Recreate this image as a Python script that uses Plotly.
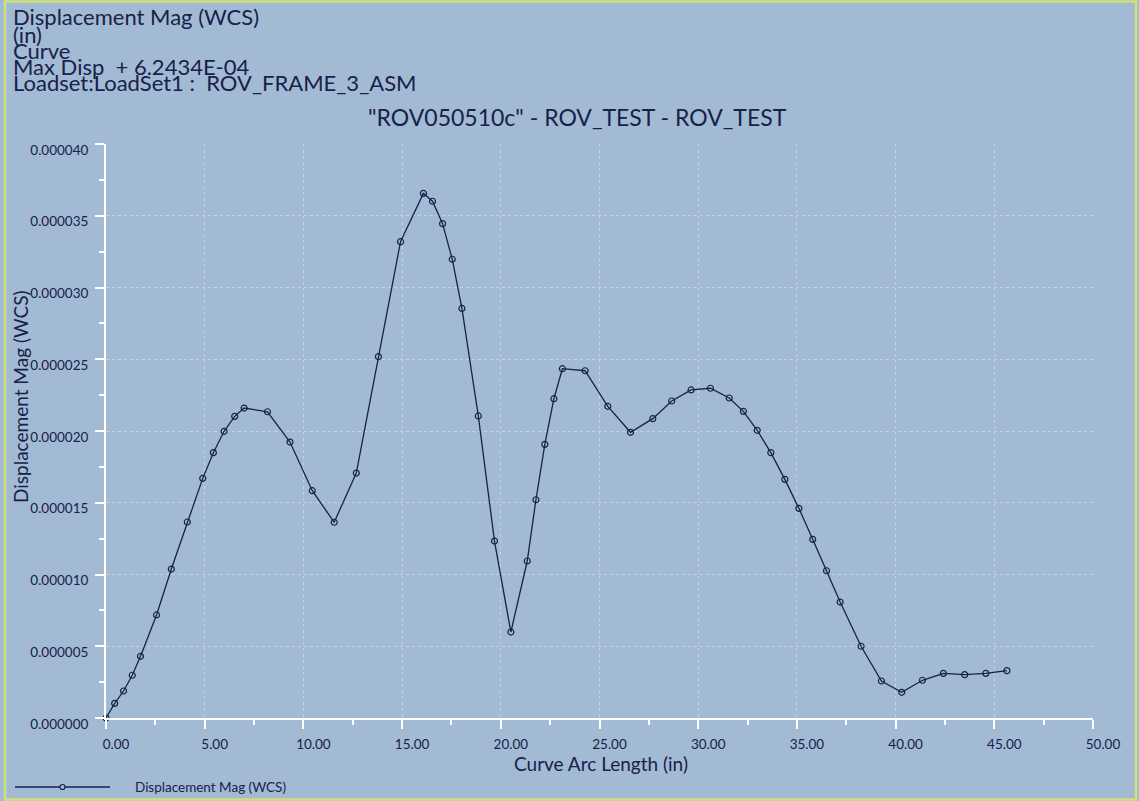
import plotly.graph_objects as go

# Curve arc length (in)
arc_length = [0.00, 0.44, 0.89, 1.33, 1.75, 2.56, 3.31, 4.12, 4.90, 5.44,
              5.98, 6.52, 7.00, 8.18, 9.32, 10.45, 11.56, 12.68, 13.80, 14.92,
              16.08, 16.54, 17.05, 17.54, 18.03, 18.86, 19.68, 20.51, 21.34, 21.78,
              22.23, 22.69, 23.12, 24.27, 25.42, 26.57, 27.70, 28.66, 29.64, 30.62,
              31.57, 32.29, 32.99, 33.68, 34.39, 35.10, 35.80, 36.50, 37.19, 38.25,
              39.28, 40.31, 41.36, 42.42, 43.50, 44.57, 45.64]
# Displacement magnitude (in), units of 1e-6
disp_e6 = [0.00, 1.02, 1.88, 2.98, 4.30, 7.18, 10.38, 13.66, 16.70, 18.49,
           19.98, 21.02, 21.60, 21.34, 19.23, 15.84, 13.64, 17.07, 25.18, 33.19,
           36.56, 36.01, 34.45, 31.97, 28.54, 21.05, 12.33, 5.99, 10.94, 15.21,
           19.07, 22.25, 24.34, 24.20, 21.72, 19.91, 20.86, 22.09, 22.86, 22.98,
           22.30, 21.37, 20.05, 18.49, 16.63, 14.61, 12.45, 10.26, 8.08, 5.00,
           2.58, 1.79, 2.63, 3.11, 3.02, 3.11, 3.30]
disp = [v * 1e-6 for v in disp_e6]

header_lines = ["Displacement Mag (WCS)", "(in)", "Curve",
                "Max Disp  + 6.2434E-04", "Loadset:LoadSet1 :  ROV_FRAME_3_ASM"]
chart_title = '"ROV050510c" - ROV_TEST - ROV_TEST'
x_title = "Curve Arc Length (in)"
y_title = "Displacement Mag (WCS)"
legend_label = "Displacement Mag (WCS)"

W, H = 1139, 801
L, R, T, B = 106, 46, 144, 83
PW, PH = W - L - R, H - T - B

def px(x):
    return (x - L) / PW

def py(y):
    return (H - B - y) / PH

BG = "#A3BAD4"
INK = "#18214A"
FONT = "Lato"

fig = go.Figure()
fig.add_trace(go.Scatter(
    x=arc_length, y=disp, mode="lines+markers",
    line=dict(color=INK, width=1.3),
    marker=dict(symbol="circle-open", size=6, color=INK, line=dict(width=1.2, color=INK)),
    cliponaxis=False, showlegend=False, name=legend_label,
))

axis_common = dict(
    showline=True, linecolor="white", linewidth=2,
    ticks="outside", tickcolor="white", tickwidth=1.5, ticklen=9,
    showgrid=True, gridcolor="#C3D2E4", griddash="dot", gridwidth=1,
    zeroline=False,
    tickfont=dict(family=FONT, size=13.5, color=INK),
)

fig.update_xaxes(
    range=[0, 50], dtick=5, tickformat=".2f",
    minor=dict(dtick=2.5, ticks="outside", ticklen=5, tickcolor="white", tickwidth=1.5, showgrid=False),
    ticklabelshift=10, ticklabelstandoff=4,
    **axis_common,
)
fig.update_yaxes(
    range=[0, 4e-5], dtick=5e-6, tickformat=".6f",
    minor=dict(dtick=2.5e-6, ticks="outside", ticklen=5, tickcolor="white", tickwidth=1.5, showgrid=False),
    ticklabelshift=6, ticklabelstandoff=4,
    **axis_common,
)

annotations = []
line_y = [17, 34, 50, 66, 82]
for txt, yy in zip(header_lines, line_y):
    annotations.append(dict(
        text=txt, xref="paper", yref="paper", x=px(11), y=py(yy),
        xanchor="left", yanchor="middle", showarrow=False,
        font=dict(family=FONT, size=22, color=INK),
    ))
annotations.append(dict(
    text=chart_title, xref="paper", yref="paper", x=px(577), y=py(117),
    xanchor="center", yanchor="middle", showarrow=False,
    font=dict(family=FONT, size=23, color=INK),
))
annotations.append(dict(
    text=x_title, xref="paper", yref="paper", x=px(601), y=py(763),
    xanchor="center", yanchor="middle", showarrow=False,
    font=dict(family=FONT, size=19, color=INK),
))
annotations.append(dict(
    text=y_title, xref="paper", yref="paper", x=px(20), y=py(397),
    xanchor="center", yanchor="middle", textangle=-90, showarrow=False,
    font=dict(family=FONT, size=19, color=INK),
))
annotations.append(dict(
    text=legend_label, xref="paper", yref="paper", x=px(133), y=py(787),
    xanchor="left", yanchor="middle", showarrow=False,
    font=dict(family=FONT, size=13.5, color=INK),
))

shapes = [
    # outer frame
    dict(type="rect", xref="paper", yref="paper",
         x0=px(5), x1=px(1136), y0=py(1.5), y1=py(799.5),
         line=dict(color="#CFE27A", width=2.5), layer="below"),
    # legend sample line
    dict(type="line", xref="paper", yref="paper",
         x0=px(15), x1=px(110), y0=py(787), y1=py(787),
         line=dict(color=INK, width=1.3)),
    dict(type="circle", xref="paper", yref="paper",
         x0=px(60), x1=px(65), y0=py(784.5), y1=py(789.5),
         line=dict(color=INK, width=1.2), fillcolor=BG),
]

fig.update_layout(
    width=W, height=H,
    margin=dict(l=L, r=R, t=T, b=B, autoexpand=False),
    paper_bgcolor=BG, plot_bgcolor=BG,
    font=dict(family=FONT, color=INK),
    annotations=annotations, shapes=shapes,
    showlegend=False,
)

fig.write_html(
    "out.html",
    config={"displayModeBar": False},
    post_script="document.body.style.margin='0';document.body.style.padding='0';"
                "document.body.style.overflow='hidden';",
)
